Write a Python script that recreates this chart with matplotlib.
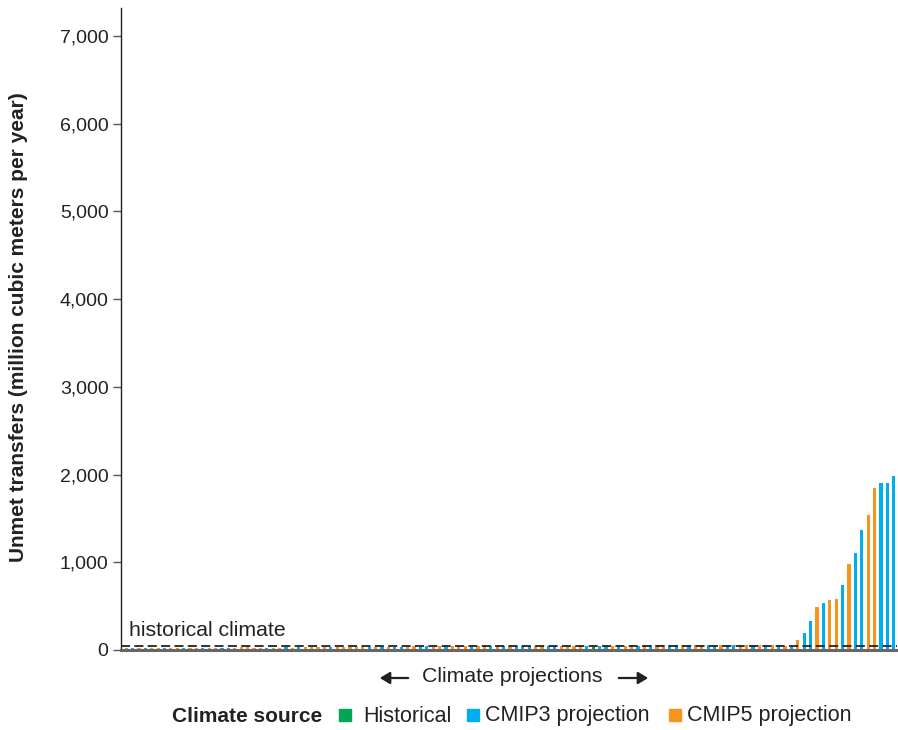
import matplotlib
matplotlib.use("Agg")
import matplotlib.pyplot as plt
from matplotlib.patches import Rectangle, FancyArrowPatch

plt.rcParams['font.family'] = ['Liberation Sans', 'DejaVu Sans']

# Unmet transfers (million cubic meters per year), one value per climate projection
values_1 = [19, 20, 19, 21, 20, 21, 20, 22, 21, 22, 21, 23, 22, 23, 23, 24, 25, 26, 32, 34]
values_2 = [25, 27, 26, 28, 27, 29, 28, 30, 29, 31, 30, 32, 31, 33, 32, 34, 33, 35, 34, 36]
values_3 = [36, 37, 38, 37, 39, 40, 39, 41, 40, 42, 41, 43, 42, 44, 43, 45, 44, 46, 45, 46]
values_4 = [46, 47, 46, 48, 47, 49, 48, 47, 49, 48, 50, 49, 51, 45, 49, 51, 50, 52, 51, 52]
values_5 = [51, 53, 52, 54, 53, 54, 53, 55, 54, 55, 54, 56, 55, 56, 55, 57, 56, 57, 56, 58]
values_6 = [57, 58, 57]
values_tail = [40, 50, 110, 190, 335, 495, 540, 575, 585, 745, 975, 1110, 1370, 1540,
               1845, 1900, 1900, 1985]

# Climate source per projection (H = historical, 3 = CMIP3, 5 = CMIP5)
sources_1 = "53535535535535533555"
sources_2 = "55355353555535555535"
sources_3 = "35335533553555355353"
sources_4 = "5333553355553H335355"
sources_5 = "35355335355335335535"
sources_6 = "353"
sources_tail = "535335355353355333"

historical_climate = 45
yticks = [0, 1000, 2000, 3000, 4000, 5000, 6000, 7000]
legend_labels = ["Historical", "CMIP3 projection", "CMIP5 projection"]

values = values_1 + values_2 + values_3 + values_4 + values_5 + values_6 + values_tail
sources = list(sources_1 + sources_2 + sources_3 + sources_4 + sources_5 + sources_6 + sources_tail)
n = min(len(values), len(sources))
values = values[:n]
sources = sources[:n]

colors_map = {"H": "#00a651", "3": "#00aeef", "5": "#f7941d"}
colors = [colors_map[s] for s in sources]

W, H = 898, 730
fig = plt.figure(figsize=(W / 100, H / 100), dpi=100)
ax = fig.add_axes([121 / W, 1 - 650 / H, 776 / W, 642 / H])

x = list(range(n))
ax.bar(x, values, width=0.5, color=colors, zorder=2)
ax.axhline(historical_climate, color="#222222", lw=1.3, dashes=(5, 2.4), zorder=3)
ax.text(0.4, 110, "historical climate", fontsize=15.3, color="#222222",
        ha="left", va="bottom")

ax.set_xlim(-0.8, n - 1 + 0.5)
ax.set_ylim(0, 7320)
ax.set_yticks(yticks)
ax.set_yticklabels([f"{v:,}" for v in yticks], fontsize=14, color="#222222")
ax.set_xticks([])
ax.tick_params(axis="y", length=6, width=1, color="#555555", pad=3)

for s in ["top", "right"]:
    ax.spines[s].set_visible(False)
ax.spines["left"].set_color("#222222")
ax.spines["left"].set_linewidth(1.0)
ax.spines["bottom"].set_color("#666666")
ax.spines["bottom"].set_linewidth(2.2)
ax.spines["bottom"].set_zorder(4)

fig.text(19 / W, 1 - 327 / H, "Unmet transfers (million cubic meters per year)",
         rotation=90, ha="center", va="center", fontsize=15, fontweight="bold",
         color="#222222")

# x-axis caption with arrows
fig.text(512 / W, 1 - 677 / H, "Climate projections", ha="center", va="center",
         fontsize=15.3, color="#222222")
for x0, x1 in [(411, 377), (616, 651)]:
    arr = FancyArrowPatch((x0 / W, 1 - 678 / H), (x1 / W, 1 - 678 / H),
                          transform=fig.transFigure,
                          arrowstyle="-|>,head_length=5,head_width=3",
                          lw=1.6, color="#222222", mutation_scale=1.2)
    fig.patches.append(arr)

# legend
ly = 1 - 716 / H
fig.text(172 / W, ly, "Climate source", ha="left", va="center", fontsize=15,
         fontweight="bold", color="#222222")
items = [(339, 363, legend_labels[0], colors_map["H"]),
         (467, 485, legend_labels[1], colors_map["3"]),
         (669, 687, legend_labels[2], colors_map["5"])]
for sx, tx, lab, col in items:
    fig.patches.append(Rectangle((sx / W, 1 - 721 / H), 12 / W, 12 / H,
                                 transform=fig.transFigure, color=col))
    fig.text(tx / W, ly, lab, ha="left", va="center", fontsize=15.5, color="#222222")

fig.savefig("out.png", dpi=100)
